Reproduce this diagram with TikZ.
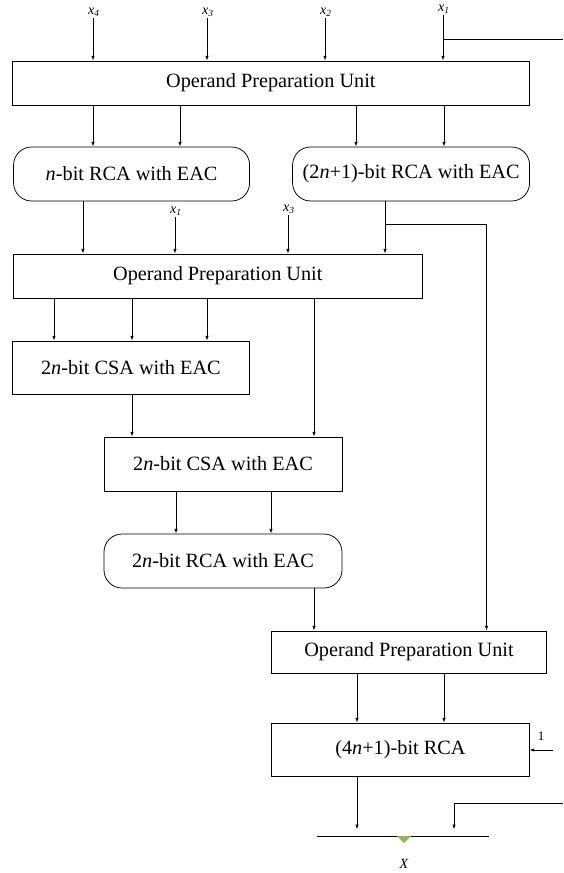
\documentclass[tikz,border=0pt]{standalone}
\usepackage{fontspec}
\setmainfont{Liberation Serif}
\usetikzlibrary{arrows.meta, positioning}
\definecolor{markgreen}{HTML}{8DBB4C}

\begin{document}
\begin{tikzpicture}[
    x=0.3mm, y=-0.3mm,
    every node/.style={font=\fontsize{17.3}{20}\selectfont},
    >={Latex[length=1.4mm,width=1mm]},
    unitbox/.style={draw, line width=0.65pt, inner sep=0pt},
    adderbox/.style={draw, line width=0.65pt, inner sep=0pt, rounded corners=5.4mm},
    inlabel/.style={font=\fontsize{12}{14}\selectfont\itshape, inner sep=1pt},
    wire/.style={line width=0.6pt},
]

\useasboundingbox (0,0) rectangle (563,873);

% --- Inputs ---
\node[inlabel] (inx4) at (94,12) {x\textsubscript{4}};
\node[inlabel] (inx3) at (208,12) {x\textsubscript{3}};
\node[inlabel] (inx2) at (326,12) {x\textsubscript{2}};
\node[inlabel] (inx1) at (444,9) {x\textsubscript{1}};
\coordinate (tout) at (563,39);

% --- First stage ---
\node[unitbox, minimum width=154.9mm, minimum height=13.2mm] (opu1) at (270.85,83) {Operand Preparation Unit};

\node[adderbox, minimum width=70.8mm, minimum height=16.2mm] (nrca) at (131.6,174) {\textit{n}-bit RCA with EAC};
\node[adderbox, minimum width=71.1mm, minimum height=16.2mm] (wrca) at (411.1,174) {(2\textit{n}+1)-bit RCA with EAC};

% --- Second stage ---
\node[inlabel] (ix1) at (176,211) {x\textsubscript{1}};
\node[inlabel] (ix3) at (289,209) {x\textsubscript{3}};

\node[unitbox, minimum width=122.5mm, minimum height=13.2mm] (opu2) at (217.8,276) {Operand Preparation Unit};

\node[unitbox, minimum width=70.9mm, minimum height=15.9mm] (csa1) at (130.9,367.5) {2\textit{n}-bit CSA with EAC};
\node[unitbox, minimum width=71.4mm, minimum height=16.2mm] (csa2) at (223,464) {2\textit{n}-bit CSA with EAC};
\node[adderbox, minimum width=71.4mm, minimum height=16.2mm] (rca2n) at (223,561) {2\textit{n}-bit RCA with EAC};

% --- Final stage ---
\node[unitbox, minimum width=82.3mm, minimum height=12.6mm] (opu3) at (409,652) {Operand Preparation Unit};
\node[unitbox, minimum width=77.2mm, minimum height=15.9mm] (rca4) at (400.4,749.5) {(4\textit{n}+1)-bit RCA};

\node[inlabel, font=\fontsize{11}{13}\selectfont] (cone) at (541,736) {1};
\coordinate (cin) at (553,750);
\coordinate (cout) at (563,803);
\coordinate (busL) at (317,836);
\coordinate (busR) at (489,836);
\node[inlabel] (xout) at (404,864) {X};

% --- Arrows ---
\draw[wire, ->] (inx4.south -| 93,0) -- (93,0 |- opu1.north);
\draw[wire, ->] (inx3.south -| 207,0) -- (207,0 |- opu1.north);
\draw[wire, ->] (inx2.south -| 325,0) -- (325,0 |- opu1.north);
\draw[wire, ->] (inx1.south -| 443,0) -- (443,0 |- opu1.north);
\draw[wire] (tout) -- (443,0 |- tout);

\draw[wire, ->] (opu1.south -| 93,0) -- (93,0 |- nrca.north);
\draw[wire, ->] (opu1.south -| 180,0) -- (180,0 |- nrca.north);
\draw[wire, ->] (opu1.south -| 356,0) -- (356,0 |- wrca.north);
\draw[wire, ->] (opu1.south -| 444,0) -- (444,0 |- wrca.north);

\draw[wire, ->] (nrca.south -| 83,0) -- (83,0 |- opu2.north);
\draw[wire, ->] (ix1.south -| 175,0) -- (175,0 |- opu2.north);
\draw[wire, ->] (ix3.south -| 288,0) -- (288,0 |- opu2.north);
\draw[wire, ->] (wrca.south -| 385,0) -- (385,0 |- opu2.north);
\draw[wire, ->] (385,224) -| (486.5,0 |- opu3.north);

\draw[wire, ->] (opu2.south -| 54,0) -- (54,0 |- csa1.north);
\draw[wire, ->] (opu2.south -| 132,0) -- (132,0 |- csa1.north);
\draw[wire, ->] (opu2.south -| 207,0) -- (207,0 |- csa1.north);
\draw[wire, ->] (opu2.south -| 314,0) -- (314,0 |- csa2.north);

\draw[wire, ->] (csa1.south -| 132,0) -- (132,0 |- csa2.north);
\draw[wire, ->] (csa2.south -| 176,0) -- (176,0 |- rca2n.north);
\draw[wire, ->] (csa2.south -| 271,0) -- (271,0 |- rca2n.north);
\draw[wire, ->] (rca2n.south -| 314,0) -- (314,0 |- opu3.north);

\draw[wire, ->] (opu3.south -| 357,0) -- (357,0 |- rca4.north);
\draw[wire, ->] (opu3.south -| 444,0) -- (444,0 |- rca4.north);
\draw[wire, ->] (cin) -- (cin -| rca4.east);

% Output
\draw[wire, ->, shorten >=2mm] (rca4.south -| 357,0) -- (357,0 |- busL);
\draw[wire, ->, shorten >=2mm] (cout) -| (454,0 |- busL);
\draw[wire] (busL) -- (busR);
\fill[markgreen] (xout |- busL) ++(-7,0) -- ++(14,0) -- ++(-7,7) -- cycle;

\end{tikzpicture}
\end{document}
